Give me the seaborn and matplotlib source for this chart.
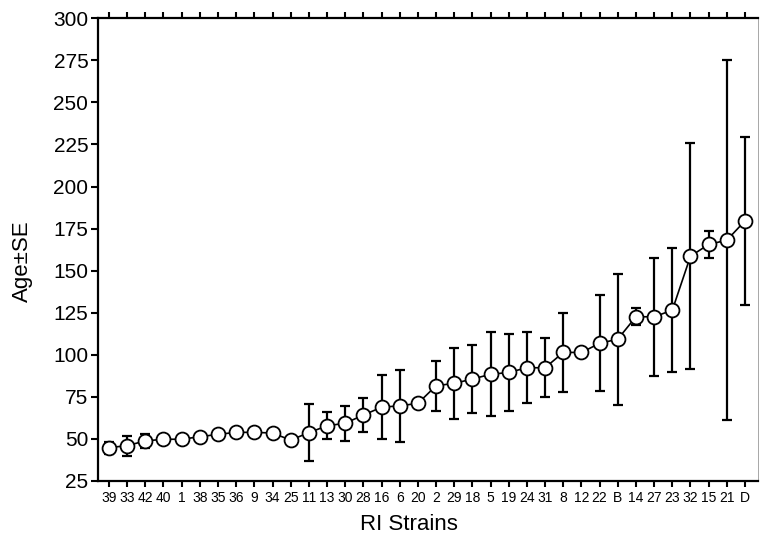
import matplotlib
matplotlib.use("Agg")
import matplotlib.pyplot as plt
import numpy as np
import pandas as pd
import seaborn as sns

# RI strains in plotted order, mean age and standard error
strains = ['39', '33', '42', '40', '1', '38', '35', '36', '9', '34', '25', '11',
           '13', '30', '28', '16', '6', '20', '2', '29', '18', '5', '19', '24',
           '31', '8', '12', '22', 'B', '14', '27', '23', '32', '15', '21', 'D']
age = [44.8, 46.0, 48.8, 49.8, 49.8, 51.3, 52.7, 53.9, 53.9, 53.5, 49.3, 53.7,
       57.8, 59.3, 64.2, 68.8, 69.7, 71.1, 81.6, 83.0, 85.6, 88.4, 89.5, 92.3,
       92.3, 101.4, 101.4, 106.8, 109.3, 122.6, 122.6, 126.5, 158.6, 165.6, 168.1, 179.6]
se = [3.5, 6.0, 4.0, 1.0, 1.0, 1.0, 1.0, 1.0, 1.0, 1.0, 2.0, 17.0,
      8.0, 10.5, 10.0, 19.0, 21.5, 1.0, 15.0, 21.0, 20.0, 25.0, 23.0, 21.0,
      17.5, 23.5, 1.0, 28.5, 39.0, 5.0, 35.0, 37.0, 67.0, 8.0, 107.0, 50.0]

df = pd.DataFrame({'pos': np.arange(len(strains)), 'strain': strains,
                   'age': age, 'se': se})

sns.set_style('white')
plt.rcParams['font.family'] = ['Liberation Sans', 'DejaVu Sans']
plt.rcParams['text.color'] = 'black'
plt.rcParams['axes.labelcolor'] = 'black'
plt.rcParams['xtick.color'] = 'black'
plt.rcParams['ytick.color'] = 'black'

fig, ax = plt.subplots(figsize=(7.6, 5.38), dpi=100)
fig.subplots_adjust(left=0.129, right=0.997, top=0.966, bottom=0.106)

ax.errorbar(df['pos'], df['age'], yerr=df['se'], fmt='none', ecolor='black',
            elinewidth=1.6, capsize=3.5, capthick=1.6, zorder=2)
sns.lineplot(data=df, x='pos', y='age', color='black', linewidth=1.2,
             marker='o', markersize=10, markerfacecolor='white',
             markeredgecolor='black', markeredgewidth=1.3, ax=ax, zorder=3)

ax.set_xlim(-0.6, 35.7)
ax.set_ylim(25, 300)
ax.set_yticks(np.arange(25, 301, 25))
ax.set_xticks(df['pos'])
ax.set_xticklabels(strains, fontsize=10)
ax.tick_params(axis='y', labelsize=15, direction='out', length=5, width=1.5,
               left=True, pad=2)
ax.tick_params(axis='x', direction='out', length=4, width=1.5, bottom=True,
               top=True, pad=3)
ax.set_xlabel('RI Strains', fontsize=16)
ax.set_ylabel('Age\u00b1SE', fontsize=16)
ax.xaxis.set_label_coords(0.471, -0.072)
ax.yaxis.set_label_coords(-0.098, 0.475)

for side in ['left', 'bottom', 'top']:
    ax.spines[side].set_linewidth(1.6)
    ax.spines[side].set_color('black')
ax.spines['right'].set_linewidth(0.6)
ax.spines['right'].set_color('#999999')

fig.savefig('out.png', dpi=100)
